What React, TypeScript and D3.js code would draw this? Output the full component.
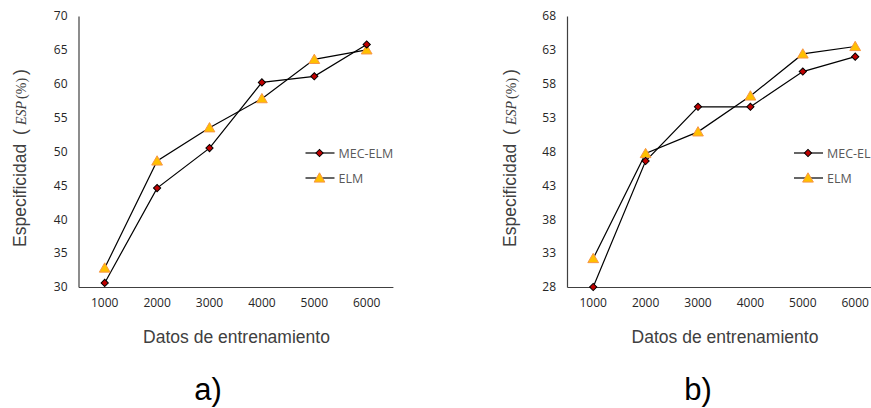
import React, { useEffect, useRef } from 'react';
import * as d3 from 'd3';

const categories = ['1000', '2000', '3000', '4000', '5000', '6000'];

const mecElmA = [30.6, 44.6, 50.5, 60.2, 61.1, 65.8];
const elmA = [32.8, 48.6, 53.5, 57.8, 63.6, 65.0];
const yTicksA = [30, 35, 40, 45, 50, 55, 60, 65, 70];

const mecElmB = [28.0, 46.6, 54.6, 54.6, 59.8, 62.0];
const elmB = [32.2, 47.7, 50.9, 56.2, 62.4, 63.5];
const yTicksB = [28, 33, 38, 43, 48, 53, 58, 63, 68];

const seriesNames = ['MEC-ELM', 'ELM'];
const xTitle = 'Datos de entrenamiento';
const panelLabels = ['a)', 'b)'];

const W = 871;
const H = 408;
const tickFont = '"Open Sans", sans-serif';
const titleFont = '"Liberation Sans", Arial, sans-serif';

type PanelCfg = {
  x0: number;
  mec: number[];
  elm: number[];
  ticks: number[];
  label: string;
  labelX: number;
  titleX: number;
};

const drawPanel = (svg: d3.Selection<SVGSVGElement, unknown, null, undefined>, cfg: PanelCfg) => {
  const top = 16;
  const bottom = 287;
  const step = 52.4;

  const xScale = d3
    .scaleBand()
    .domain(categories)
    .range([cfg.x0, cfg.x0 + step * categories.length])
    .padding(0);

  const yScale = d3
    .scaleLinear()
    .domain([cfg.ticks[0], cfg.ticks[cfg.ticks.length - 1]])
    .range([bottom, top]);

  const cx = (c: string) => (xScale(c) ?? 0) + xScale.bandwidth() / 2;

  const g = svg.append('g');

  // axes
  const yAxis = g
    .append('g')
    .attr('transform', `translate(${cfg.x0}, 0)`)
    .call(d3.axisLeft(yScale).tickValues(cfg.ticks).tickSize(0).tickPadding(11));
  yAxis.select('.domain').attr('stroke', '#404040').attr('stroke-width', 1.2);
  yAxis
    .selectAll('text')
    .style('font-family', tickFont)
    .style('font-size', '12px')
    .attr('fill', '#262626');

  const xAxis = g
    .append('g')
    .attr('transform', `translate(0, ${bottom})`)
    .call(d3.axisBottom(xScale).tickSize(0).tickPadding(11));
  xAxis.select('.domain').attr('stroke', '#404040').attr('stroke-width', 1.2);
  xAxis
    .selectAll('text')
    .style('font-family', tickFont)
    .style('font-size', '12px')
    .attr('fill', '#262626');

  const line = d3
    .line<number>()
    .x((_, i) => cx(categories[i]))
    .y(d => yScale(d));

  g.append('path')
    .attr('d', line(cfg.elm))
    .attr('fill', 'none')
    .attr('stroke', '#000')
    .attr('stroke-width', 1.2);

  g.append('path')
    .attr('d', line(cfg.mec))
    .attr('fill', 'none')
    .attr('stroke', '#000')
    .attr('stroke-width', 1.2);

  const tri = d3.symbol().type(d3.symbolTriangle).size(50);
  const dia = d3.symbol().type(d3.symbolSquare).size(26);

  g.selectAll('.elm')
    .data(cfg.elm)
    .enter()
    .append('path')
    .attr('class', 'elm')
    .attr('d', tri())
    .attr('transform', (d, i) => `translate(${cx(categories[i])}, ${yScale(d) + 1})`)
    .attr('fill', '#FFC000')
    .attr('stroke', '#F79646')
    .attr('stroke-width', 1);

  g.selectAll('.mec')
    .data(cfg.mec)
    .enter()
    .append('path')
    .attr('class', 'mec')
    .attr('d', dia())
    .attr('transform', (d, i) => `translate(${cx(categories[i])}, ${yScale(d)}) rotate(45)`)
    .attr('fill', '#C00000')
    .attr('stroke', '#000')
    .attr('stroke-width', 1);

  // legend
  const lx = cfg.x0 + 227;
  const legendY = [153, 178];
  seriesNames.forEach((name, i) => {
    const y = legendY[i];
    g.append('line')
      .attr('x1', lx)
      .attr('x2', lx + 29)
      .attr('y1', y)
      .attr('y2', y)
      .attr('stroke', i === 0 ? '#404040' : '#000')
      .attr('stroke-width', i === 0 ? 1.6 : 1.2);
    g.append('path')
      .attr('d', i === 0 ? dia() : tri())
      .attr('transform', i === 0 ? `translate(${lx + 14}, ${y}) rotate(45)` : `translate(${lx + 14}, ${y + 1})`)
      .attr('fill', i === 0 ? '#C00000' : '#FFC000')
      .attr('stroke', i === 0 ? '#000' : '#F79646')
      .attr('stroke-width', 1);
    g.append('text')
      .attr('x', lx + 33)
      .attr('y', y + 4.5)
      .style('font-family', tickFont)
      .style('font-size', '12.5px')
      .attr('fill', '#595959')
      .text(name);
  });

  // y title
  const yt = g
    .append('text')
    .attr('transform', `translate(${cfg.titleX}, 247) rotate(-90)`)
    .attr('x', 0)
    .attr('y', 0)
    .attr('fill', '#404040')
    .style('font-family', titleFont)
    .style('font-size', '17.5px');
  yt.append('tspan').text('Especificidad');
  yt.append('tspan').attr('dx', 9).text('(');
  yt.append('tspan')
    .attr('dx', 4)
    .style('font-family', '"Liberation Serif", serif')
    .style('font-style', 'italic')
    .style('font-size', '14px')
    .text('ESP');
  yt.append('tspan')
    .attr('dx', 2)
    .style('font-family', '"Liberation Serif", serif')
    .style('font-size', '14px')
    .text('(%)');
  yt.append('tspan').attr('dx', 3).text(')');

  // x title
  g.append('text')
    .attr('x', cfg.x0 + 158)
    .attr('y', 343)
    .attr('text-anchor', 'middle')
    .attr('fill', '#404040')
    .style('font-family', titleFont)
    .style('font-size', '17.5px')
    .text(xTitle);

  // panel label
  g.append('text')
    .attr('x', cfg.labelX)
    .attr('y', 400)
    .attr('text-anchor', 'middle')
    .attr('fill', '#000')
    .style('font-family', titleFont)
    .style('font-size', '31px')
    .text(cfg.label);
};

const App = () => {
  const svgRef = useRef<SVGSVGElement>(null);

  useEffect(() => {
    if (!svgRef.current) return;
    const svg = d3.select(svgRef.current);
    svg.selectAll('*').remove();

    drawPanel(svg, {
      x0: 78.5,
      mec: mecElmA,
      elm: elmA,
      ticks: yTicksA,
      label: panelLabels[0],
      labelX: 208,
      titleX: 26
    });
    drawPanel(svg, {
      x0: 567,
      mec: mecElmB,
      elm: elmB,
      ticks: yTicksB,
      label: panelLabels[1],
      labelX: 698,
      titleX: 516
    });
  }, []);

  return (
    <svg
      ref={svgRef}
      width={W}
      height={H}
      style={{ position: 'absolute', left: 0, top: 0, background: '#fff' }}
    />
  );
};

export default App;
